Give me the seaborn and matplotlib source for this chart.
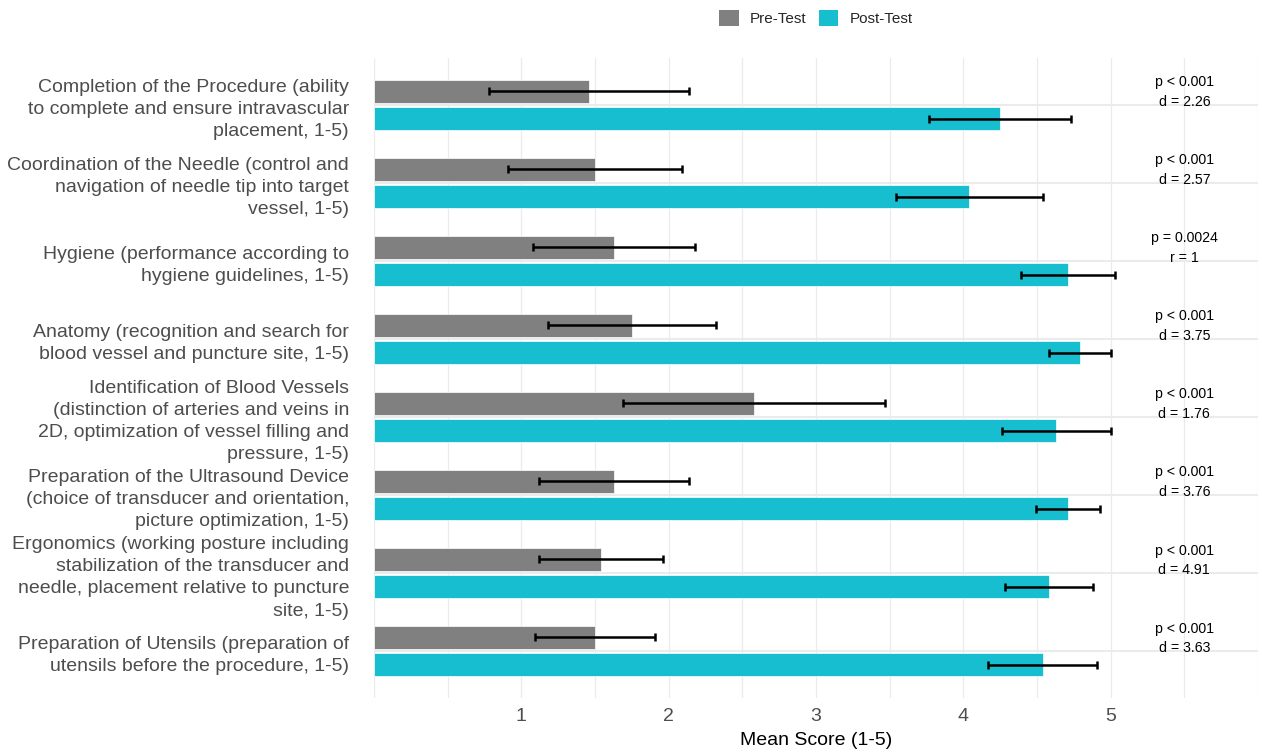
import numpy as np
import pandas as pd
import matplotlib
matplotlib.use("Agg")
import matplotlib.pyplot as plt
import seaborn as sns
from matplotlib.patches import Patch

# Skill categories (top to bottom)
skills = [
    "Completion of the Procedure (ability\nto complete and ensure intravascular\nplacement, 1-5)",
    "Coordination of the Needle (control and\nnavigation of needle tip into target\nvessel, 1-5)",
    "Hygiene (performance according to\nhygiene guidelines, 1-5)",
    "Anatomy (recognition and search for\nblood vessel and puncture site, 1-5)",
    "Identification of Blood Vessels\n(distinction of arteries and veins in\n2D, optimization of vessel filling and\npressure, 1-5)",
    "Preparation of the Ultrasound Device\n(choice of transducer and orientation,\npicture optimization, 1-5)",
    "Ergonomics (working posture including\nstabilization of the transducer and\nneedle, placement relative to puncture\nsite, 1-5)",
    "Preparation of Utensils (preparation of\nutensils before the procedure, 1-5)",
]

pre_mean = [1.46, 1.50, 1.63, 1.75, 2.58, 1.63, 1.54, 1.50]
pre_sd = [0.68, 0.59, 0.55, 0.57, 0.89, 0.51, 0.42, 0.41]
post_mean = [4.25, 4.04, 4.71, 4.79, 4.63, 4.71, 4.58, 4.54]
post_sd = [0.48, 0.50, 0.32, 0.21, 0.37, 0.22, 0.30, 0.37]

p_labels = ["p < 0.001", "p < 0.001", "p = 0.0024", "p < 0.001",
            "p < 0.001", "p < 0.001", "p < 0.001", "p < 0.001"]
effect_labels = ["d = 2.26", "d = 2.57", "r = 1", "d = 3.75",
                 "d = 1.76", "d = 3.76", "d = 4.91", "d = 3.63"]

x_ticks = [1, 2, 3, 4, 5]
groups = ["Pre-Test", "Post-Test"]
palette = {"Pre-Test": "#808080", "Post-Test": "#17BECF"}

sns.set_theme(style="white")
plt.rcParams["font.family"] = ["Liberation Sans", "DejaVu Sans"]

df = pd.DataFrame({
    "Skill": skills * 2,
    "Test": ["Pre-Test"] * len(skills) + ["Post-Test"] * len(skills),
    "Mean": pre_mean + post_mean,
    "SD": pre_sd + post_sd,
})

W, H = 1262, 753
fig = plt.figure(figsize=(W / 100, H / 100), dpi=100)
ax = fig.add_axes([374 / W, 1 - 698 / H, 884 / W, 640 / H])

sns.barplot(data=df, y="Skill", x="Mean", hue="Test", order=skills,
            hue_order=groups, palette=palette, saturation=1, orient="h",
            width=0.708, gap=0.167, errorbar=None, edgecolor="white",
            linewidth=0.5, ax=ax, legend=False, zorder=2)

# Mean +/- SD whiskers, placed on the bars seaborn drew
for cont, grp in zip(ax.containers, groups):
    sub = df[df["Test"] == grp].set_index("Skill").loc[skills]
    ys = [b.get_y() + b.get_height() / 2 for b in cont]
    ax.errorbar(sub["Mean"].values, ys, xerr=sub["SD"].values, fmt="none",
                ecolor="black", elinewidth=1.8, capsize=2.8, capthick=1.8,
                zorder=3)

# Significance and effect size per skill
for i, (pl, el) in enumerate(zip(p_labels, effect_labels)):
    ax.text(5.5, i - 0.238, pl, ha="center", va="baseline", fontsize=10.2,
            color="black", zorder=4)
    ax.text(5.5, i + 0.009, el, ha="center", va="baseline", fontsize=10.2,
            color="black", zorder=4)

ax.set_xlim(0, 6)
ax.set_ylim(len(skills) - 0.4, -0.6)
ax.set_xticks(x_ticks)
ax.set_xticks(np.arange(0, 6.01, 0.5), minor=True)
ax.set_xticklabels([str(t) for t in x_ticks])
ax.grid(axis="x", which="both", color="#EBEBEB", lw=0.9)
ax.grid(axis="y", which="major", color="#EBEBEB", lw=1.5)
ax.set_axisbelow(True)
for s in ax.spines.values():
    s.set_visible(False)
ax.tick_params(axis="both", which="both", length=0, colors="#4D4D4D",
               labelsize=14)
ax.tick_params(axis="y", pad=18)
ax.tick_params(axis="x", pad=7)
ax.set_ylabel("")
ax.set_xlabel("Mean Score (1-5)", fontsize=14, color="black", labelpad=5)
for lab in ax.get_yticklabels():
    lab.set_linespacing(1.4)

handles = [Patch(facecolor=palette[g], edgecolor="none", label=g) for g in groups]
fig.legend(handles=handles, loc="center", bbox_to_anchor=(816 / W, 1 - 18 / H),
           ncol=2, frameon=False, fontsize=11, handlelength=1.25,
           handleheight=1.25, handletextpad=0.75, columnspacing=0.8)

fig.savefig("out.png", dpi=100, facecolor="white")
